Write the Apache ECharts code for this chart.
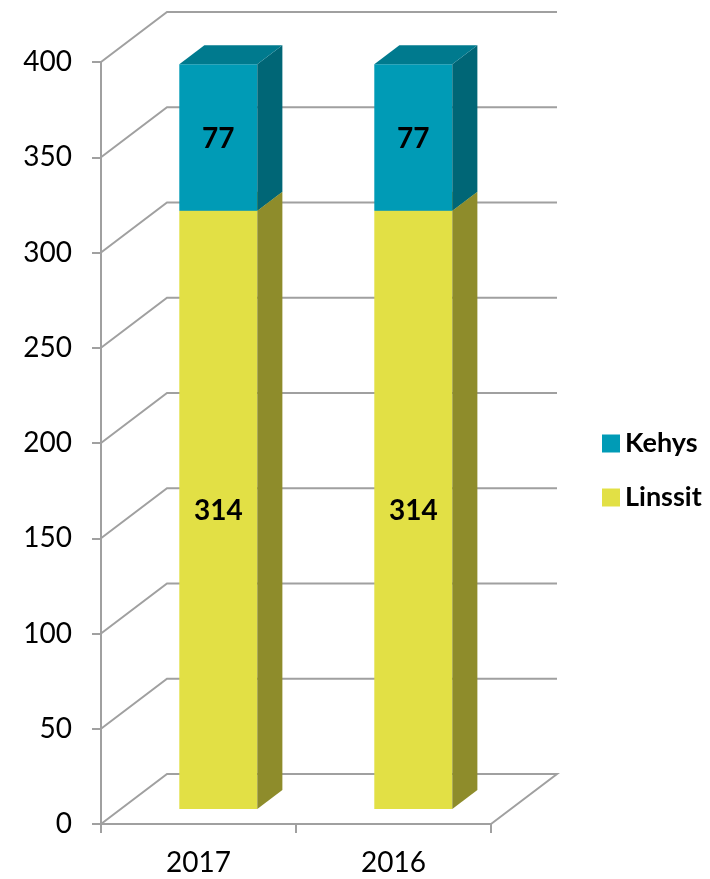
<!DOCTYPE html>
<html>
<head>
<meta charset="utf-8">
<script src="https://cdn.jsdelivr.net/npm/echarts@6/dist/echarts.min.js"></script>
<style>
  html, body { margin: 0; padding: 0; background: #fff; }
  #chart { width: 710px; height: 879px; }
</style>
</head>
<body>
<div id="chart"></div>
<script>
'use strict';

///// data /////
const years = ['2017', '2016'];
const linssit = [314, 314];
const kehys = [77, 77];
const yTicks = [0, 50, 100, 150, 200, 250, 300, 350, 400];

///// 3D look /////
const DX = 66, DY = -50;          // full depth of the box
const FRONT = 0.3, BACK = 0.68;   // bar depth position (fraction of box)
const FONT = 'Lato';
const GRID_COLOR = '#a0a0a0';

const barColors = {
  Kehys:   { front: '#009bb6', side: '#006676', top: '#007a8e' },
  Linssit: { front: '#e2e045', side: '#8e8c2b', top: '#b8b638' }
};

const makeBar = (name) => (params, api) => {
  const c = barColors[name];
  const cat = api.value(0), lo = api.value(1), hi = api.value(2), lab = api.value(3);
  const pLo = api.coord([cat, lo]);
  const pHi = api.coord([cat, hi]);
  const w = api.size([1, 0])[0] * 0.4;
  const fx = DX * FRONT, fy = DY * FRONT;
  const dx = DX * (BACK - FRONT), dy = DY * (BACK - FRONT);
  const x = pLo[0] - w / 2 + fx;
  const yb = pLo[1] + fy, yt = pHi[1] + fy;
  return {
    type: 'group',
    children: [
      { type: 'rect', shape: { x: x, y: yt, width: w, height: yb - yt }, style: { fill: c.front } },
      { type: 'polygon', shape: { points: [[x + w, yb], [x + w, yt], [x + w + dx, yt + dy], [x + w + dx, yb + dy]] }, style: { fill: c.side } },
      { type: 'polygon', shape: { points: [[x, yt], [x + w, yt], [x + w + dx, yt + dy], [x + dx, yt + dy]] }, style: { fill: c.top } },
      { type: 'text', x: x + w / 2, y: (yt + yb) / 2 + 1,
        style: { text: String(lab), fill: '#000', font: 'bold 28px ' + FONT, align: 'center', verticalAlign: 'middle' } }
    ]
  };
};

const renderWall = (params, api) => {
  const v = api.value(1);
  const y = api.coord([0, v])[1];
  const cs = params.coordSys;
  const x0 = cs.x, x1 = cs.x + cs.width;
  const pts = [[x0, y], [x0 + DX, y + DY], [x1 + DX, y + DY]];
  if (v === 0) pts.push([x1, y]);
  return { type: 'polyline', shape: { points: pts }, style: { stroke: GRID_COLOR, lineWidth: 2, fill: null } };
};

const option = {
  animation: false,
  textStyle: { fontFamily: FONT },
  grid: { left: 101, right: 219, top: 62, bottom: 55 },
  legend: {
    data: ['Kehys', 'Linssit'],
    orient: 'vertical',
    left: 597,
    top: 425,
    icon: 'rect',
    itemWidth: 18,
    itemHeight: 18,
    itemGap: 27,
    textStyle: { fontFamily: FONT, fontWeight: 'bold', fontSize: 27, color: '#000' }
  },
  xAxis: {
    type: 'category',
    data: years,
    axisLine: { lineStyle: { color: GRID_COLOR, width: 2 } },
    axisTick: { show: true, length: 9, lineStyle: { color: GRID_COLOR, width: 2 } },
    axisLabel: { color: '#000', fontSize: 28, fontFamily: FONT, margin: 25 }
  },
  yAxis: {
    type: 'value',
    min: 0,
    max: 400,
    interval: 50,
    splitLine: { show: false },
    axisLine: { show: true, lineStyle: { color: GRID_COLOR, width: 2 } },
    axisTick: { show: true, length: 9, lineStyle: { color: GRID_COLOR, width: 2 } },
    axisLabel: { color: '#000', fontSize: 28, fontFamily: FONT, margin: 29 }
  },
  series: [
    {
      type: 'custom',
      name: 'wall',
      silent: true,
      z: 1,
      renderItem: renderWall,
      data: yTicks.map(v => [0, v])
    },
    {
      type: 'custom',
      name: 'Linssit',
      z: 2,
      itemStyle: { color: barColors.Linssit.front },
      renderItem: makeBar('Linssit'),
      encode: { x: 0, y: [1, 2] },
      data: years.map((_, i) => [i, 0, linssit[i], linssit[i]])
    },
    {
      type: 'custom',
      name: 'Kehys',
      z: 3,
      itemStyle: { color: barColors.Kehys.front },
      renderItem: makeBar('Kehys'),
      encode: { x: 0, y: [1, 2] },
      data: years.map((_, i) => [i, linssit[i], linssit[i] + kehys[i], kehys[i]])
    }
  ]
};

const chart = echarts.init(document.getElementById('chart'));
chart.setOption(option);
</script>
</body>
</html>
